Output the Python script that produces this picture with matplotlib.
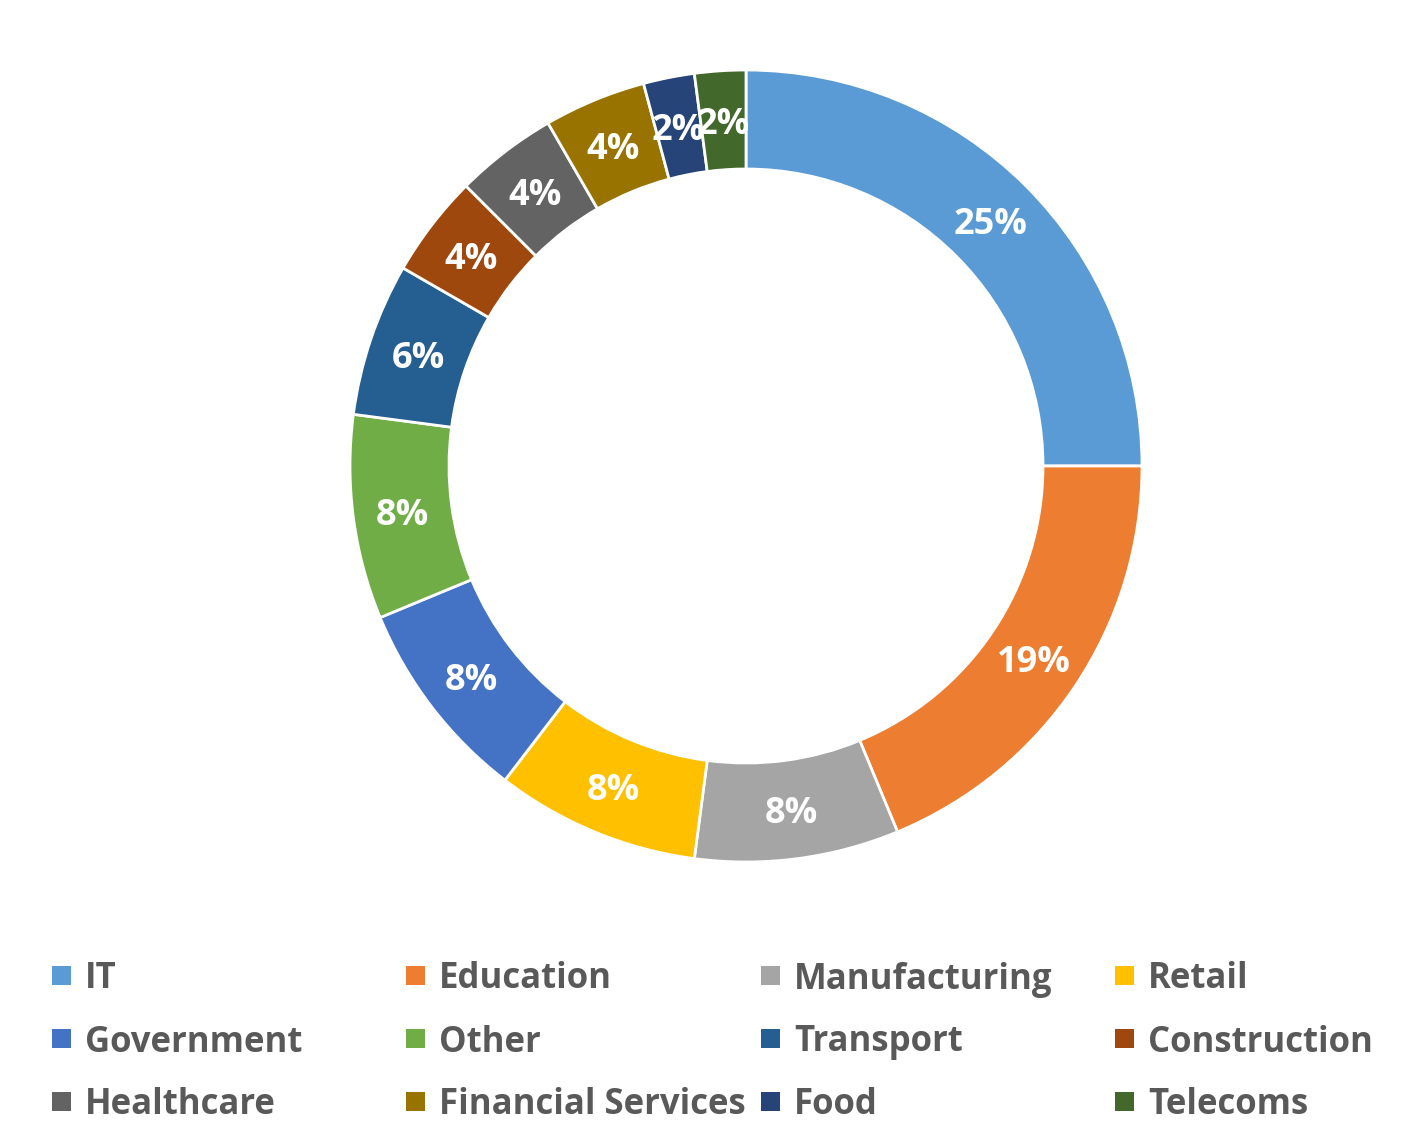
import matplotlib
matplotlib.use("Agg")
import matplotlib.pyplot as plt
from matplotlib.patches import Rectangle
import numpy as np

plt.rcParams['font.family'] = ['Open Sans', 'DejaVu Sans']

sectors = ["IT", "Education", "Manufacturing", "Retail",
           "Government", "Other", "Transport", "Construction",
           "Healthcare", "Financial Services", "Food", "Telecoms"]
counts = [12, 9, 4, 4, 4, 4, 3, 2, 2, 2, 1, 1]
colors = ["#5B9BD5", "#ED7D31", "#A5A5A5", "#FFC000",
          "#4472C4", "#70AD47", "#255E91", "#9E480E",
          "#636363", "#997300", "#264478", "#43682B"]

W, H = 1417, 1140
fig = plt.figure(figsize=(W / 100, H / 100), dpi=100)

# donut centred at (746, 466) px, outer radius 396 px
cx, cy, R = 746, 466, 396
ax = fig.add_axes([(cx - R) / W, (H - cy - R) / H, 2 * R / W, 2 * R / H])
ring = 0.25
wedges, _ = ax.pie(counts, colors=colors, startangle=90, counterclock=False,
                   radius=1, wedgeprops=dict(width=ring, edgecolor="white", linewidth=2))
ax.set_xlim(-1, 1)
ax.set_ylim(-1, 1)
ax.set_aspect("equal")
ax.axis("off")

total = sum(counts)
theta = 90.0
for n in counts:
    span = 360.0 * n / total
    mid = np.deg2rad(theta - span / 2)
    r = 1 - ring / 2
    ax.text(r * np.cos(mid), r * np.sin(mid), f"{100 * n / total:.0f}%",
            ha="center", va="center_baseline", color="white", fontsize=26, fontweight="bold")
    theta -= span

# legend, 4 equal columns
col_x = [52, 406, 761, 1115]
row_y = [975, 1038, 1101]
sq = 19
for i, (name, c) in enumerate(zip(sectors, colors)):
    x = col_x[i % 4]
    y = row_y[i // 4]
    fig.patches.append(Rectangle((x / W, (H - y - sq / 2) / H), sq / W, sq / H,
                                 transform=fig.transFigure, facecolor=c, edgecolor="none"))
    fig.text((x + 33) / W, (H - y) / H, name, ha="left", va="center_baseline",
             color="#595959", fontsize=25, fontweight="bold")

fig.savefig("out.png", dpi=100, facecolor="white")
